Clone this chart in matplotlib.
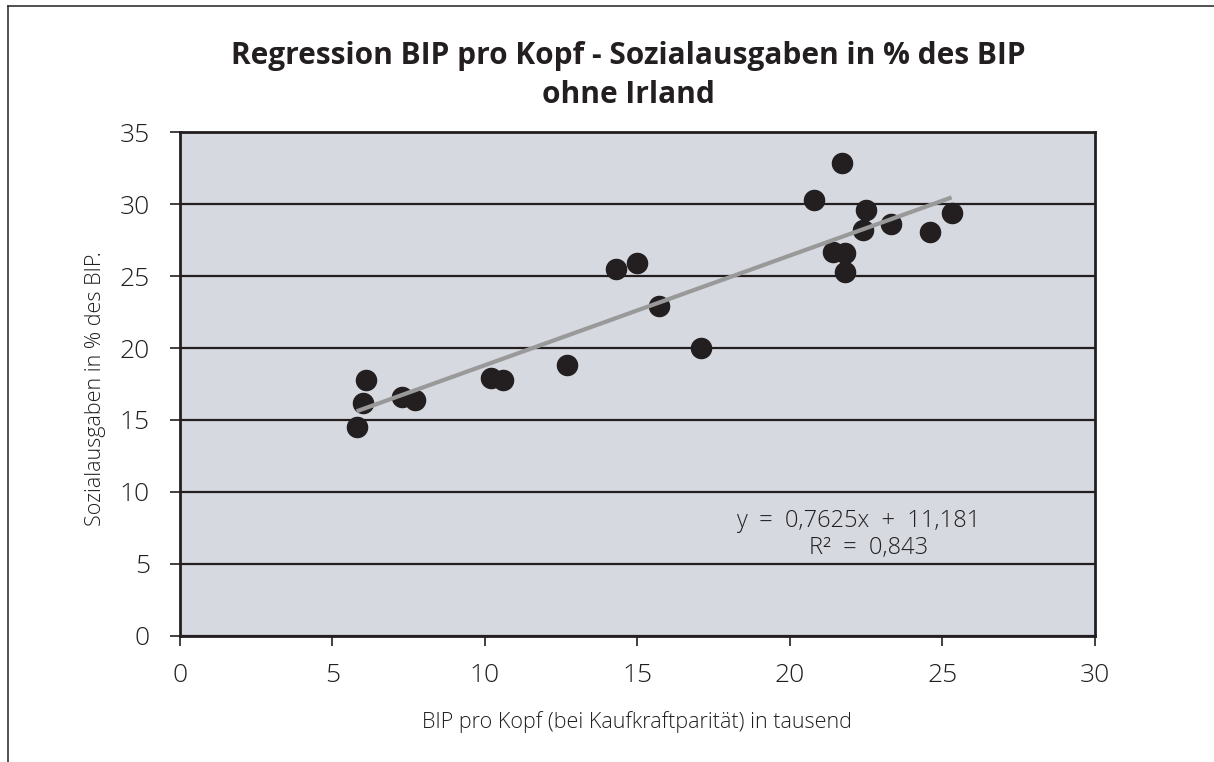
import matplotlib
matplotlib.use('Agg')
import matplotlib.pyplot as plt
from matplotlib.lines import Line2D
import numpy as np

plt.rcParams['font.family'] = ['Open Sans', 'DejaVu Sans']

# BIP pro Kopf (Kaufkraftparität, tausend) und Sozialausgaben in % des BIP
bip = [5.8, 6.0, 6.1, 7.3, 7.7, 10.2, 10.6, 12.7, 14.3, 15.0,
       15.7, 17.1, 20.8, 21.7, 22.5, 22.4, 23.3, 24.6, 25.3, 21.4, 21.8, 21.8]
sozial = [14.5, 16.2, 17.8, 16.6, 16.4, 17.9, 17.8, 18.8, 25.5, 25.9,
          22.9, 20.0, 30.3, 32.9, 29.6, 28.2, 28.6, 28.1, 29.4, 26.7, 26.6, 25.3]

# Trendlinie (aus Excel)
steigung = 0.7625
achsenabschnitt = 11.181
r_quadrat = 0.843

x_ticks = [0, 5, 10, 15, 20, 25, 30]
y_ticks = [0, 5, 10, 15, 20, 25, 30, 35]

W, H = 1214, 762
fig = plt.figure(figsize=(W / 100, H / 100), dpi=100)
fig.patch.set_facecolor('white')

# Achse in Pixeln platzieren
left, right, top, bottom = 179.7, 1095, 132.3, 635.7
ax = fig.add_axes([left / W, 1 - bottom / H, (right - left) / W, (bottom - top) / H])
ax.set_facecolor('#D6D9E0')
ax.set_xlim(0, 30)
ax.set_ylim(0, 35)
ax.set_xticks(x_ticks)
ax.set_yticks(y_ticks)

dunkel = '#231F20'
ax.grid(axis='y', color=dunkel, linewidth=1.6, zorder=1)
ax.set_axisbelow(True)
for s in ax.spines.values():
    s.set_color(dunkel)
    s.set_linewidth(2.0)

ax.tick_params(direction='out', length=7.5, width=1.2, color=dunkel,
               labelsize=19, labelcolor=dunkel)
ax.tick_params(axis='x', pad=12)
ax.tick_params(axis='y', pad=14)
for lbl in ax.get_xticklabels() + ax.get_yticklabels():
    lbl.set_fontweight('light')

# Punkte
ax.plot(bip, sozial, 'o', color=dunkel, markersize=14.5, zorder=3)

# Regressionslinie von min bis max x
xs = np.array([min(bip), max(bip)])
ax.plot(xs, steigung * xs + achsenabschnitt, color='#999999', linewidth=3.0,
        solid_capstyle='butt', zorder=4)

# Gleichung und Bestimmtheitsmass
gl = ('y  =  ' + f'{steigung:.4f}'.replace('.', ',') + 'x  +  '
      + f'{achsenabschnitt:.3f}'.replace('.', ','))
r2 = 'R²  =  ' + f'{r_quadrat:.3f}'.replace('.', ',')
ex = (858 - left) / (right - left)
ax.text(ex, (bottom - 527) / (bottom - top), gl, transform=ax.transAxes,
        ha='center', va='baseline', fontsize=17, fontweight='light',
        color=dunkel, zorder=5)
ax.text(ex + 0.012, (bottom - 554) / (bottom - top), r2, transform=ax.transAxes,
        ha='center', va='baseline', fontsize=17, fontweight='light',
        color=dunkel, zorder=5)

ax.set_xlabel('BIP pro Kopf (bei Kaufkraftparität) in tausend', fontsize=15.5,
              fontweight='light', color=dunkel, va='center')
ax.xaxis.set_label_coords(0.5, -0.172)
ax.set_ylabel('Sozialausgaben in % des BIP.', fontsize=15.5,
              fontweight='light', color=dunkel, va='center')
ax.yaxis.set_label_coords(-0.0925, 0.49)

# Titel
fig.text(628 / W, 1 - 64 / H, 'Regression BIP pro Kopf - Sozialausgaben in % des BIP',
         ha='center', va='baseline', fontsize=21.5, fontweight='bold', color=dunkel)
fig.text(628 / W, 1 - 103 / H, 'ohne Irland',
         ha='center', va='baseline', fontsize=21.5, fontweight='bold', color=dunkel)

# Rahmen oben und links
fig.add_artist(Line2D([8 / W, 1], [1 - 6 / H, 1 - 6 / H], color='#333333',
                      linewidth=1.2, transform=fig.transFigure))
fig.add_artist(Line2D([8 / W, 8 / W], [0, 1 - 6 / H], color='#333333',
                      linewidth=1.2, transform=fig.transFigure))

fig.savefig('out.png', dpi=100, facecolor='white')
